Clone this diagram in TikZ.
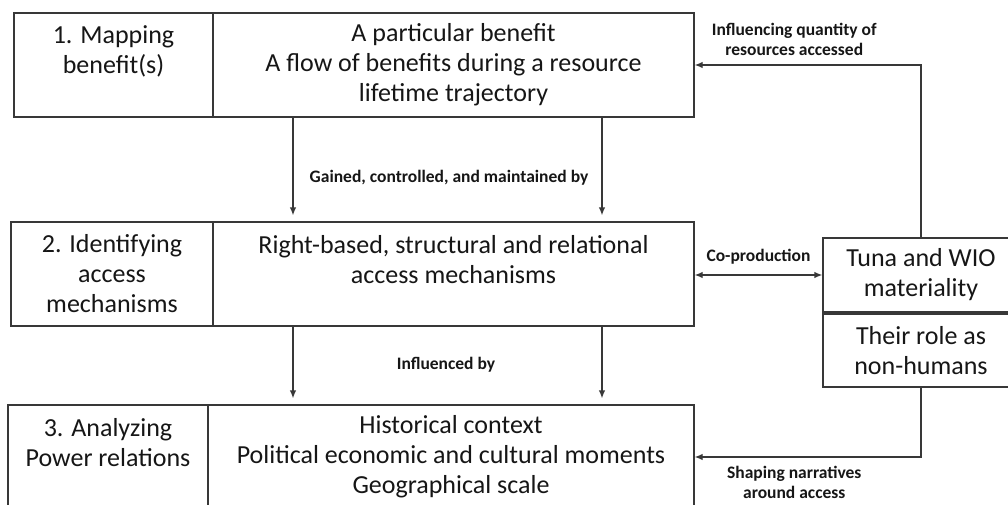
\documentclass[tikz,border=0pt]{standalone}
\usepackage{fontspec}
\setmainfont{Carlito}
\usetikzlibrary{arrows.meta}
\definecolor{ink}{HTML}{161616}
\definecolor{rule}{HTML}{383838}

\begin{document}
\begin{tikzpicture}[x=1pt,y=-1pt,>={Latex[length=8pt,width=6.5pt]}]
 \tikzstyle{cell}=[rectangle,draw=rule,line width=1.3pt,minimum height=104pt,inner sep=0pt,align=center,text=ink,font=\fontsize{26}{30}\selectfont]
 \tikzstyle{sidecell}=[cell,minimum width=196pt,minimum height=74pt]
 \tikzstyle{lbl}=[font=\fontsize{17.5}{20}\selectfont\bfseries,text=ink,align=center,inner sep=1pt]
 \tikzstyle{link}=[->,rule,line width=1.3pt]
 \fill[white] (0,0) rectangle (1008,505);
 \clip (0,0) rectangle (1008,505);
 % the three steps, each split in two cells
 \node[cell,minimum width=199pt] (mapL) at (113.5,65) {1. Mapping\\benefit(s)\\\mbox{}};
 \node[cell,minimum width=481pt] (mapR) at (453.5,65) {A particular benefit\\A flow of benefits during a resource\\lifetime trajectory};
 \node[cell,minimum width=202pt] (accL) at (112,274) {2. Identifying\\access\\mechanisms};
 \node[cell,minimum width=481pt] (accR) at (453.5,274) {Right-based, structural and relational\\access mechanisms\\\mbox{}};
 \node[cell,minimum width=200pt] (powL) at (108,457) {3. Analyzing\\Power relations\\\mbox{}};
 \node[cell,minimum width=486pt] (powR) at (451,457) {Historical context\\Political economic and cultural moments\\Geographical scale};
 % side boxes
 \node[sidecell] (tuna) at (921,275) {Tuna and WIO\\materiality};
 \node[sidecell,minimum height=73pt] (role) at (921,350.5) {Their role as\\non-humans};
 \coordinate (colA) at (293,0);
 \coordinate (colB) at (602,0);
 \draw[link,shorten >=6pt] (colA |- mapR.south) -- (colA |- accR.north);
 \draw[link,shorten >=6pt] (colB |- mapR.south) -- (colB |- accR.north);
 \node[lbl] (gainLbl) at (449,178) {Gained, controlled, and maintained by};
 \draw[link,shorten >=6pt] (colA |- accR.south) -- (colA |- powR.north);
 \draw[link,shorten >=6pt] (colB |- accR.south) -- (colB |- powR.north);
 \node[lbl] (inflLbl) at (446,365) {Influenced by};
 \draw[link] (tuna.north) |- node[lbl,pos=0.78,above=8pt]{Influencing quantity of\\resources accessed} (mapR.east);
 \draw[link,<->] (accR.east |- tuna.west) -- node[lbl,above=9pt]{Co-production} (tuna.west);
 \draw[link] (role.south) |- node[lbl,pos=0.78,below=8pt]{Shaping narratives\\around access} (powR.east);
\end{tikzpicture}
\end{document}
